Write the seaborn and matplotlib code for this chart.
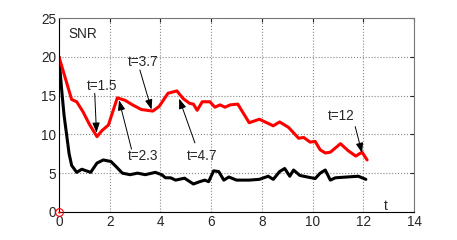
import pandas as pd
import matplotlib
matplotlib.use("Agg")
import matplotlib.pyplot as plt
import seaborn as sns

# red curve
t_red = [0, 0.5, 0.7, 0.95, 1.2, 1.5, 1.7, 1.95, 2.3, 2.6, 2.9, 3.25, 3.7, 3.95,
         4.3, 4.65, 4.9, 5.15, 5.3, 5.45, 5.65, 5.95, 6.15, 6.35, 6.55, 6.75, 7.05,
         7.5, 7.9, 8.45, 8.7, 9.05, 9.45, 9.65, 9.9, 10.1, 10.3, 10.5, 10.7, 11.1,
         11.4, 11.7, 11.95, 12.15]
snr_red = [20, 14.5, 14.2, 12.9, 11.3, 9.7, 10.5, 11.2, 14.7, 14.4, 13.8, 13.2, 13.0, 13.6,
           15.3, 15.6, 14.6, 14.0, 13.9, 13.1, 14.2, 14.2, 13.5, 13.8, 13.5, 13.8, 13.9,
           11.5, 11.95, 11.1, 11.6, 10.9, 9.5, 9.6, 9.0, 9.1, 8.0, 7.6, 7.7, 8.8,
           7.9, 7.2, 7.7, 6.7]

# black curve
t_black = [0, 0.1, 0.2, 0.3, 0.4, 0.5, 0.7, 0.9, 1.25, 1.5, 1.75, 2.05, 2.25, 2.5, 2.8,
           3.1, 3.4, 3.8, 4.05, 4.2, 4.4, 4.6, 4.95, 5.3, 5.55, 5.75, 5.9, 6.1, 6.3,
           6.5, 6.7, 7.0, 7.5, 7.9, 8.25, 8.45, 8.7, 8.9, 9.1, 9.25, 9.5, 9.8, 10.1,
           10.3, 10.5, 10.7, 10.9, 11.35, 11.8, 12.1]
snr_black = [20, 16, 12.5, 10, 7.5, 6.0, 5.1, 5.5, 5.1, 6.3, 6.7, 6.5, 5.85, 5.0, 4.8,
             5.0, 4.8, 5.1, 4.8, 4.4, 4.4, 4.1, 4.35, 3.6, 3.9, 4.1, 3.9, 5.3, 5.2,
             4.1, 4.5, 4.1, 4.1, 4.2, 4.6, 4.2, 5.2, 5.6, 4.6, 5.4, 4.7, 4.5, 4.3,
             5.0, 5.4, 4.1, 4.4, 4.5, 4.6, 4.2]

# annotations: label, text position, arrow start, arrow tip
notes = [
    ("t=1.5", (1.69, 16.2), (1.41, 15.3), (1.48, 10.2)),
    ("t=3.7", (3.31, 19.3), (3.19, 18.3), (3.65, 13.2)),
    ("t=2.3", (3.31, 7.2), (2.86, 8.1), (2.37, 14.4)),
    ("t=4.7", (5.64, 7.2), (5.36, 8.9), (4.74, 14.6)),
    ("t=12", (11.13, 12.4), (11.68, 11.0), (11.95, 7.6)),
]

xticks = [0, 2, 4, 6, 8, 10, 12, 14]
yticks = [0, 5, 10, 15, 20, 25]

sns.set_style("white")
plt.rcParams["font.family"] = ["Liberation Sans", "DejaVu Sans"]
FS = 9.8

df_red = pd.DataFrame({"t": t_red, "snr": snr_red})
df_black = pd.DataFrame({"t": t_black, "snr": snr_black})

fig = plt.figure(figsize=(4.57, 2.40), dpi=100)
ax = fig.add_axes([0.129, 0.117, 0.777, 0.808])

sns.lineplot(data=df_black, x="t", y="snr", color="black", lw=2.2, estimator=None, ax=ax)
sns.lineplot(data=df_red, x="t", y="snr", color="red", lw=2.2, estimator=None, ax=ax)

# MATLAB style origin marker
ax.plot(0, 0, "o", ms=5.5, mfc="none", mec="red", mew=0.8, clip_on=False, zorder=5)
ax.plot(0, 0, ".", ms=1.5, color="red", clip_on=False, zorder=5)

ax.set_xlim(0, 14)
ax.set_ylim(0, 25)
ax.set_xticks(xticks)
ax.set_yticks(yticks)
ax.set_xlabel("")
ax.set_ylabel("")
ax.grid(True, ls=":", color="#888888", lw=0.8)
ax.tick_params(direction="in", length=3, labelsize=FS, top=True, right=True,
               labeltop=False, labelright=False, pad=2)
for side, sp in ax.spines.items():
    sp.set_linewidth(0.8)
    sp.set_color("black" if side in ("left", "bottom") else "#777777")

ax.text(0.38, 22.9, "SNR", fontsize=FS, va="center", ha="left")
ax.text(12.87, 0.7, "t", fontsize=FS, va="center", ha="center")

for label, txt, start, tip in notes:
    ax.text(txt[0], txt[1], label, fontsize=FS, ha="center", va="center")
    ax.annotate("", xy=tip, xytext=start,
                arrowprops=dict(arrowstyle="-|>,head_length=0.6,head_width=0.22",
                                color="black", lw=0.7, shrinkA=0, shrinkB=0))

fig.savefig("out.png", dpi=100)
